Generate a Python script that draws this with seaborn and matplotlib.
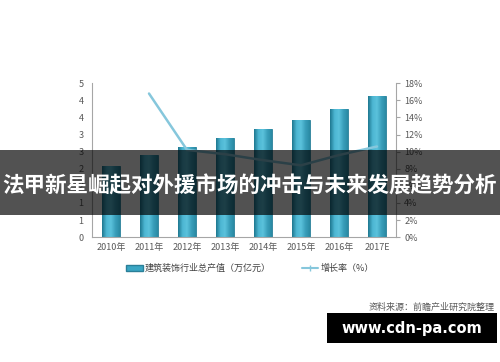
import numpy as np
import pandas as pd
import matplotlib
matplotlib.use("Agg")
import matplotlib.pyplot as plt
import seaborn as sns
from matplotlib.patches import Rectangle, Patch
from matplotlib.lines import Line2D
from matplotlib.ticker import FixedLocator, FixedFormatter

# ---- data ----
years = ["2010年", "2011年", "2012年", "2013年", "2014年", "2015年", "2016年", "2017E"]
output_value = [2.08, 2.40, 2.63, 2.90, 3.16, 3.42, 3.74, 4.12]
growth_years = ["2011年", "2012年", "2013年", "2014年", "2015年", "2016年", "2017E"]
growth_rate = [16.8, 10.2, 9.7, 9.0, 8.4, 9.6, 10.6]
left_ticks = [0, 0.5, 1, 1.5, 2, 2.5, 3, 3.5, 4, 4.5]
left_labels = ["0", "1", "1", "2", "2", "3", "3", "4", "4", "5"]
right_ticks = [0, 2, 4, 6, 8, 10, 12, 14, 16, 18]
right_labels = [f"{t}%" for t in right_ticks]
bar_label = "建筑装饰行业总产值（万亿元）"
line_label = "增长率（%）"
title = "法甲新星崛起对外援市场的冲击与未来发展趋势分析"
source = "资料来源：前瞻产业研究院整理"
site = "www.cdn-pa.com"

sns.set_theme(style="white")
plt.rcParams['font.family'] = ['Noto Sans CJK SC', 'DejaVu Sans']

fig = plt.figure(figsize=(5, 3.62), dpi=100)
ax = fig.add_axes([0.184, 0.345, 0.608, 0.425])

df = pd.DataFrame({"year": years, "value": output_value})
sns.barplot(data=df, x="year", y="value", ax=ax, color="#3aa6c4", width=0.47,
            edgecolor="#2a7f98", linewidth=0.6, saturation=1)

# gradient fill for bars
grad = np.linspace(0, 1, 64)
cmap = matplotlib.colors.LinearSegmentedColormap.from_list(
    "b", ["#1f7890", "#4cb6d2", "#5bc2dc", "#3a9fbb", "#2a8aa4"])
for p in ax.patches:
    x0, y0 = p.get_x(), p.get_y()
    w, h = p.get_width(), p.get_height()
    im = ax.imshow(grad[np.newaxis, :], extent=[x0, x0 + w, y0, y0 + h],
                   cmap=cmap, aspect="auto", zorder=p.get_zorder() + 0.1)
    im.set_clip_path(p)
ax.set_xlim(-0.5, len(years) - 0.5)
ax.set_ylim(0, 4.5)
ax.yaxis.set_major_locator(FixedLocator(left_ticks))
ax.yaxis.set_major_formatter(FixedFormatter(left_labels))
ax.set_xlabel("")
ax.set_ylabel("")
ax.tick_params(axis="both", labelsize=6.5, colors="#595959", length=0, pad=6)
ax.tick_params(axis="x", pad=4)
for s in ["top", "right"]:
    ax.spines[s].set_visible(False)
for s in ["left", "bottom"]:
    ax.spines[s].set_color("#a6a6a6")
    ax.spines[s].set_linewidth(0.8)

ax2 = ax.twinx()
gdf = pd.DataFrame({"x": [years.index(y) for y in growth_years], "rate": growth_rate})
sns.lineplot(data=gdf, x="x", y="rate", ax=ax2, color="#86c7dc", linewidth=1.8)
ax2.set_ylim(0, 18)
ax2.set_xlim(-0.5, len(years) - 0.5)
ax2.yaxis.set_major_locator(FixedLocator(right_ticks))
ax2.yaxis.set_major_formatter(FixedFormatter(right_labels))
ax2.set_ylabel("")
ax2.set_xlabel("")
ax2.tick_params(axis="y", labelsize=6.5, colors="#595959", length=3, width=0.8, pad=3)
ax2.tick_params(axis="y", color="#a6a6a6")
for s in ["top", "left", "bottom"]:
    ax2.spines[s].set_visible(False)
ax2.spines["right"].set_color("#a6a6a6")
ax2.spines["right"].set_linewidth(0.8)

# legend
handles = [Patch(facecolor="#3aa6c4", edgecolor="#2a7f98", label=bar_label),
           Line2D([0], [0], color="#86c7dc", lw=1.5, marker="|", markersize=4, label=line_label)]
fig.legend(handles=handles, loc="center", bbox_to_anchor=(0.5, 0.258), ncol=2,
           frameon=False, fontsize=6.5, handlelength=1.8, handleheight=0.6,
           columnspacing=3.5, handletextpad=0.2, labelcolor="#404040")

# source
fig.text(0.99, 0.152, source, ha="right", va="center", fontsize=6.5,
         color="#595959", style="italic")

# banner
fig.add_artist(Rectangle((0, 1 - 215 / 362), 1, 65 / 362, transform=fig.transFigure,
                         facecolor="black", alpha=0.68, edgecolor="none", zorder=10))
fig.text(0.5, 1 - 186 / 362, title, ha="center", va="center", fontsize=15.5,
         color="white", fontweight="bold", zorder=11)

# site box
fig.add_artist(Rectangle((327 / 500, 1 - 343 / 362), 170 / 500, 30 / 362,
                         transform=fig.transFigure, facecolor="black",
                         edgecolor="none", zorder=10))
fig.text(412 / 500, 1 - 328 / 362, site, ha="center", va="center", fontsize=10.5,
         color="white", fontweight="bold", family="DejaVu Sans", zorder=11)

fig.savefig("out.png", dpi=100)
